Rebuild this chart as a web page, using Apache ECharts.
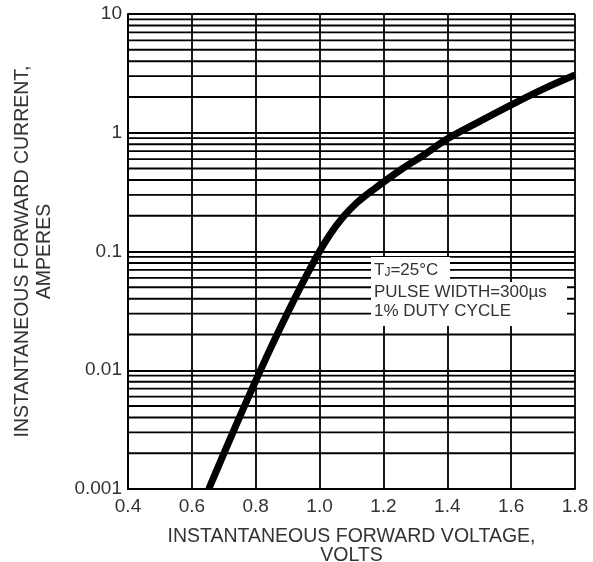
<!DOCTYPE html>
<html>
<head>
<meta charset="utf-8">
<script src="https://cdn.jsdelivr.net/npm/echarts@6/dist/echarts.min.js"></script>
<style>
html,body{margin:0;padding:0;background:#fff;}
#chart{width:593px;height:562px;}
</style>
</head>
<body>
<div id="chart"></div>
<script>
// Forward voltage (V) and instantaneous forward current (A)
var voltage = [0.653, 0.75, 0.844, 0.927, 0.99, 1.031, 1.073, 1.115, 1.167, 1.26, 1.323, 1.398, 1.49, 1.599, 1.70, 1.80];
var current = [0.001, 0.00406, 0.0148, 0.0427, 0.090, 0.137, 0.194, 0.255, 0.33, 0.50, 0.64, 0.88, 1.20, 1.71, 2.33, 3.06];

// Minor horizontal grid lines (2..9 within each decade)
var decades = [0.001, 0.01, 0.1, 1];
var minorSteps = [2, 3, 4, 5, 6, 7, 8, 9];
var minorGrid = [];
decades.forEach(function (d) {
  minorSteps.forEach(function (m) { minorGrid.push(+(d * m).toPrecision(3)); });
});
var yTickLabels = ['0.001', '0.01', '0.1', '1', '10'];
var xRange = [0.4, 1.8];

var chart = echarts.init(document.getElementById('chart'), null, {renderer: 'canvas'});
var font = 'Liberation Sans, Arial, sans-serif';
var txt = '#333';
var gridW = 1.8;

var gridSeries = minorGrid.map(function (v) {
  return {
    type: 'line', z: 1, silent: true, symbol: 'none', showSymbol: false,
    lineStyle: {color: '#000', width: gridW},
    data: [[xRange[0], v], [xRange[1], v]]
  };
});

chart.setOption({
  animation: false,
  backgroundColor: '#fff',
  grid: {left: 128, right: 18, top: 14, bottom: 73, containLabel: false, outerBoundsMode: 'none'},
  xAxis: {
    type: 'value', min: xRange[0], max: xRange[1], interval: 0.2,
    name: 'INSTANTANEOUS FORWARD VOLTAGE,\nVOLTS',
    nameLocation: 'middle', nameGap: 38,
    nameTextStyle: {fontFamily: font, fontSize: 19.5, color: txt, lineHeight: 19, verticalAlign: 'top'},
    axisLine: {show: true, lineStyle: {color: '#000', width: gridW}},
    axisTick: {show: false},
    axisLabel: {fontFamily: font, fontSize: 19, color: txt, margin: 8,
      formatter: function (v) { return v.toFixed(1); }},
    splitLine: {show: true, lineStyle: {color: '#000', width: gridW}}
  },
  yAxis: {
    type: 'log', logBase: 10, min: 0.001, max: 10,
    name: 'INSTANTANEOUS FORWARD CURRENT,\nAMPERES',
    nameLocation: 'middle', nameGap: 73, nameRotate: 90,
    nameTextStyle: {fontFamily: font, fontSize: 19.5, color: txt, lineHeight: 21.5},
    axisLine: {show: true, lineStyle: {color: '#000', width: gridW}},
    axisTick: {show: false},
    axisLabel: {fontFamily: font, fontSize: 19, color: txt, margin: 6,
      formatter: function (v) {
        var k = Math.round(Math.log10(v)) + 3;
        return yTickLabels[k] !== undefined ? yTickLabels[k] : '';
      }},
    splitLine: {show: true, lineStyle: {color: '#000', width: gridW}}
  },
  series: gridSeries.concat([
    {
      type: 'line', z: 5, smooth: 0.35, showSymbol: false, symbol: 'none', silent: true,
      lineStyle: {color: '#000', width: 7, cap: 'butt'},
      data: voltage.map(function (v, i) { return [v, current[i]]; })
    }
  ]),
  graphic: [
    {type: 'rect', shape: {x: 371, y: 257, width: 79, height: 26}, style: {fill: '#fff'}, z: 10},
    {type: 'rect', shape: {x: 371, y: 282, width: 196, height: 44}, style: {fill: '#fff'}, z: 10},
    {type: 'text', x: 374, y: 270, z: 11, style: {
      text: '{a|T}{s|J}{a|=25°C}', verticalAlign: 'middle',
      rich: {a: {fontFamily: font, fontSize: 17, fill: txt}, s: {fontFamily: font, fontSize: 12, fill: txt, padding: [5, 0, 0, 0]}}
    }},
    {type: 'text', x: 374, y: 292, z: 11, style: {text: 'PULSE WIDTH=300µs', fontFamily: font, fontSize: 17, fill: txt, verticalAlign: 'middle'}},
    {type: 'text', x: 374, y: 311, z: 11, style: {text: '1% DUTY CYCLE', fontFamily: font, fontSize: 17, fill: txt, verticalAlign: 'middle'}}
  ]
});
</script>
</body>
</html>
